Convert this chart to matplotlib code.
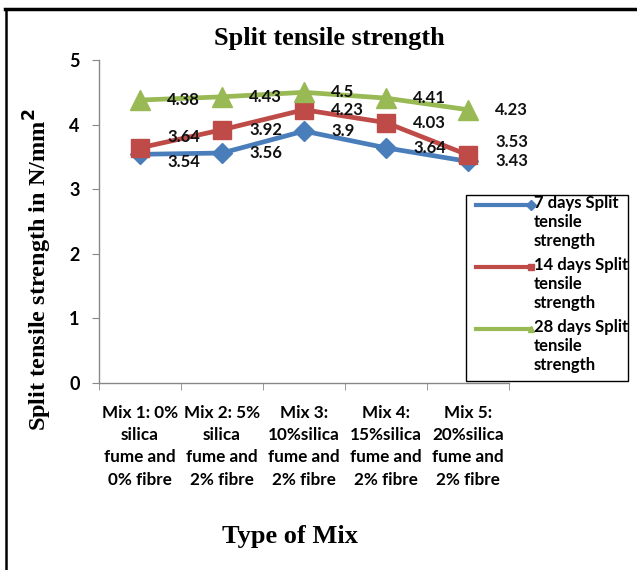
import numpy as np
import matplotlib
matplotlib.use('Agg')
import matplotlib.pyplot as plt
from matplotlib.lines import Line2D
from matplotlib.patches import Rectangle

mixes = ['Mix 1: 0%\nsilica\nfume and\n0% fibre',
         'Mix 2: 5%\nsilica\nfume and\n2% fibre',
         'Mix 3:\n10%silica\nfume and\n2% fibre',
         'Mix 4:\n15%silica\nfume and\n2% fibre',
         'Mix 5:\n20%silica\nfume and\n2% fibre']
days7 = [3.54, 3.56, 3.9, 3.64, 3.43]
days14 = [3.64, 3.92, 4.23, 4.03, 3.53]
days28 = [4.38, 4.43, 4.5, 4.41, 4.23]
names = ['7 days Split\ntensile\nstrength',
         '14 days Split\ntensile\nstrength',
         '28 days Split\ntensile\nstrength']

lab_font = 'Lato'
serif = 'Liberation Serif'
W, H = 637, 570


def fx(px):
    return px / W


def fy(py_):
    return 1 - py_ / H


fig = plt.figure(figsize=(6.37, 5.70), dpi=100)
ax = fig.add_axes([fx(99), fy(383), 410 / W, 323 / H])

x = np.arange(1, 6)
series = [(days7, '#4A7EBB', 'D', 10), (days14, '#BE4B48', 's', 13), (days28, '#98B954', '^', 15)]
for (vals, col, mk, ms), name in zip(series, names):
    ax.plot(x, vals, color=col, lw=3.4, marker=mk, markersize=ms, zorder=3)

# data labels, right of the points (a few nudged like the original)
nudge = {(0, 0): -8, (1, 0): 11, (1, 4): 13}
for s, (vals, col, mk, ms) in enumerate(series):
    for i, v in enumerate(vals):
        ax.annotate(f'{v:g}', xy=(x[i], v), xytext=(27, nudge.get((s, i), 0)),
                    textcoords='offset pixels', ha='left', va='center',
                    fontsize=12, fontweight='bold', family=lab_font, color='#111111', zorder=4)

ax.set_xlim(0.5, 5.5)
ax.set_ylim(0, 5)
ax.set_yticks([0, 1, 2, 3, 4, 5])
ax.set_xticks(x)
ax.set_xticklabels(mixes, fontsize=12.3, fontweight='bold', family=lab_font, linespacing=1.47)
ax.set_xticks(np.arange(0.5, 6, 1), minor=True)
ax.tick_params(axis='x', which='major', length=0, pad=16)
ax.tick_params(axis='x', which='minor', length=5, color='#888888', direction='out')
ax.tick_params(axis='y', length=5, color='#888888', direction='out', pad=9)
for t in ax.get_yticklabels():
    t.set_fontsize(13)
    t.set_fontweight('bold')
    t.set_family(lab_font)

for sp in ['top', 'right']:
    ax.spines[sp].set_visible(False)
for sp in ['left', 'bottom']:
    ax.spines[sp].set_color('#888888')
    ax.spines[sp].set_linewidth(1)

fig.text(fx(329), fy(38), 'Split tensile strength', ha='center', va='center',
         fontsize=19, fontweight='bold', family=serif)
fig.text(fx(290), fy(537), 'Type of Mix', ha='center', va='center',
         fontsize=19, fontweight='bold', family=serif)
fig.text(fx(38), fy(270), 'Split tensile strength in N/mm$^{\\mathbf{2}}$', ha='center', va='center',
         rotation=90, fontsize=17.5, fontweight='bold', family=serif)

# legend box drawn by hand so each handle sits on the first line of its label
fig.add_artist(Rectangle((fx(466), fy(381)), 162 / W, 186 / H, transform=fig.transFigure,
                         facecolor='white', edgecolor='black', lw=1, zorder=5))
for k, ((_, col, mk, _), name) in enumerate(zip(series, names)):
    yc = 205 + 62 * k
    fig.add_artist(Line2D([fx(476), fx(531)], [fy(yc), fy(yc)], color=col, lw=3,
                          marker=mk, markersize=5, markevery=[1], zorder=6))
    fig.text(fx(534), fy(yc - 10), name, ha='left', va='top', fontsize=12, fontweight='bold',
             family=lab_font, linespacing=1.23, zorder=6)

# outer frame of the original screenshot
fig.add_artist(Line2D([fx(5), 1], [fy(9), fy(9)], color='black', lw=2.5))
fig.add_artist(Line2D([fx(6), fx(6)], [fy(9), 0], color='black', lw=1.8))

fig.savefig('out.png', dpi=100)
